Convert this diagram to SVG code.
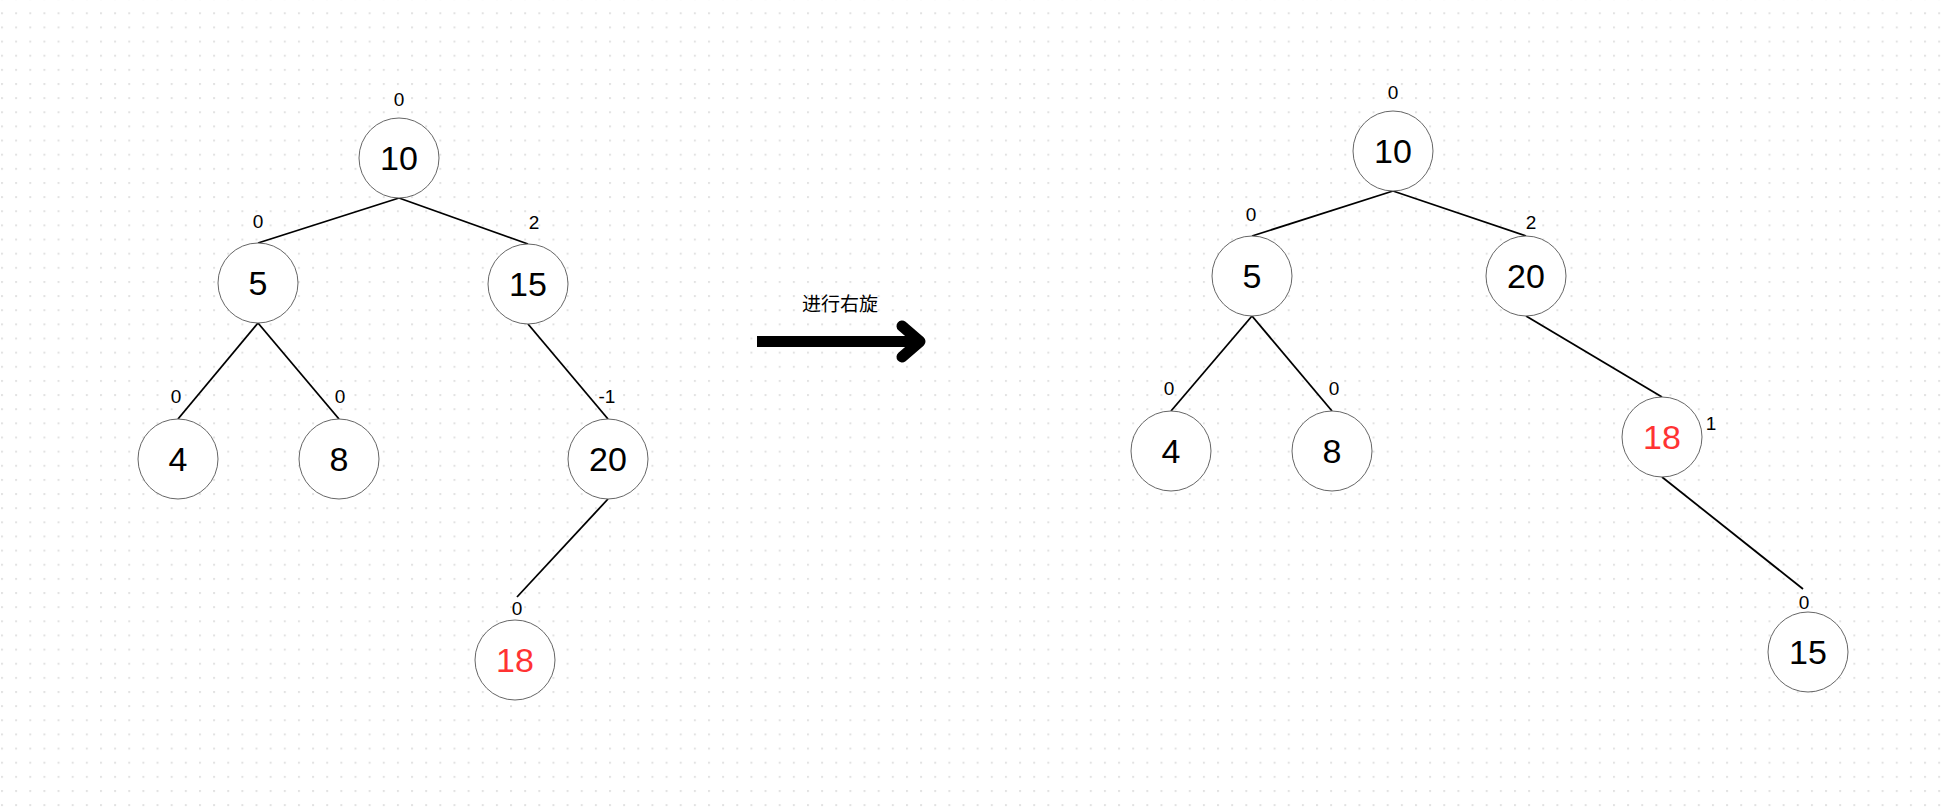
<svg xmlns="http://www.w3.org/2000/svg" width="1951" height="811" viewBox="0 0 1951 811">
  <defs>
    <pattern id="dots" patternUnits="userSpaceOnUse" x="1" y="12.3" width="14.14" height="14.14">
      <rect x="0" y="0" width="2" height="2" fill="#e2e2e2"/>
    </pattern>
    <style>
      .node circle { fill: #ffffff; stroke: #666666; stroke-width: 1; }
      .node text { font-family: "Liberation Sans", Arial, sans-serif; font-size: 34px; fill: #000000; text-anchor: middle; }
      .node text.red { fill: #ff3333; }
      .edges line { stroke: #000000; stroke-width: 1.8; stroke-linecap: butt; }
      .lbl { font-family: "Liberation Sans", Arial, sans-serif; font-size: 19px; fill: #000000; text-anchor: middle; }
      .cn { font-family: "Noto Sans CJK SC", "Noto Sans", sans-serif; font-size: 19px; fill: #000000; text-anchor: middle; }
    </style>
  </defs>
  <rect x="0" y="0" width="1951" height="811" fill="#ffffff"/>
  <rect x="0" y="0" width="1951" height="811" fill="url(#dots)"/>

  <g id="connectors" class="edges">
    <line x1="399" y1="198" x2="258" y2="243"/>
    <line x1="399" y1="198" x2="528" y2="244"/>
    <line x1="258" y1="323" x2="178" y2="419"/>
    <line x1="258" y1="323" x2="339" y2="419"/>
    <line x1="528" y1="324" x2="608" y2="419"/>
    <line x1="608" y1="499" x2="517" y2="597"/>
    <line x1="1393" y1="191" x2="1252" y2="236"/>
    <line x1="1393" y1="191" x2="1526" y2="236"/>
    <line x1="1252" y1="316" x2="1171" y2="411"/>
    <line x1="1252" y1="316" x2="1332" y2="411"/>
    <line x1="1526" y1="316" x2="1662" y2="397"/>
    <line x1="1662" y1="477" x2="1803" y2="589"/>
  </g>

  <g id="left-10" class="node"><circle cx="399" cy="158" r="40"/><text x="399" y="170.2">10</text></g>
  <g id="left-5" class="node"><circle cx="258" cy="283" r="40"/><text x="258" y="295.2">5</text></g>
  <g id="left-15" class="node"><circle cx="528" cy="284" r="40"/><text x="528" y="296.2">15</text></g>
  <g id="left-4" class="node"><circle cx="178" cy="459" r="40"/><text x="178" y="471.2">4</text></g>
  <g id="left-8" class="node"><circle cx="339" cy="459" r="40"/><text x="339" y="471.2">8</text></g>
  <g id="left-20" class="node"><circle cx="608" cy="459" r="40"/><text x="608" y="471.2">20</text></g>
  <g id="left-18" class="node"><circle cx="515" cy="660" r="40"/><text class="red" x="515" y="672.2">18</text></g>

  <g id="right-10" class="node"><circle cx="1393" cy="151" r="40"/><text x="1393" y="163.2">10</text></g>
  <g id="right-5" class="node"><circle cx="1252" cy="276" r="40"/><text x="1252" y="288.2">5</text></g>
  <g id="right-20" class="node"><circle cx="1526" cy="276" r="40"/><text x="1526" y="288.2">20</text></g>
  <g id="right-4" class="node"><circle cx="1171" cy="451" r="40"/><text x="1171" y="463.2">4</text></g>
  <g id="right-8" class="node"><circle cx="1332" cy="451" r="40"/><text x="1332" y="463.2">8</text></g>
  <g id="right-18" class="node"><circle cx="1662" cy="437" r="40"/><text class="red" x="1662" y="449.2">18</text></g>
  <g id="right-15" class="node"><circle cx="1808" cy="652" r="40"/><text x="1808" y="664.2">15</text></g>

  <g id="labels">
    <text class="lbl" x="399" y="105.8">0</text>
    <text class="lbl" x="258" y="227.8">0</text>
    <text class="lbl" x="534" y="229.3">2</text>
    <text class="lbl" x="176" y="402.8">0</text>
    <text class="lbl" x="340" y="402.8">0</text>
    <text class="lbl" x="607" y="402.8">-1</text>
    <text class="lbl" x="517" y="614.8">0</text>
    <text class="lbl" x="1393" y="98.8">0</text>
    <text class="lbl" x="1251" y="220.8">0</text>
    <text class="lbl" x="1531" y="229.3">2</text>
    <text class="lbl" x="1169" y="394.8">0</text>
    <text class="lbl" x="1334" y="394.8">0</text>
    <text class="lbl" x="1711" y="430.3">1</text>
    <text class="lbl" x="1804" y="608.8">0</text>
  </g>

  <g id="rotate-arrow">
    <text class="cn" x="840" y="310.5">进行右旋</text>
    <line x1="757" y1="341.5" x2="916" y2="341.5" stroke="#000000" stroke-width="11"/>
    <polyline points="902,326 920,341.5 902,357" fill="none" stroke="#000000" stroke-width="11" stroke-linecap="round" stroke-linejoin="round"/>
  </g>
</svg>
